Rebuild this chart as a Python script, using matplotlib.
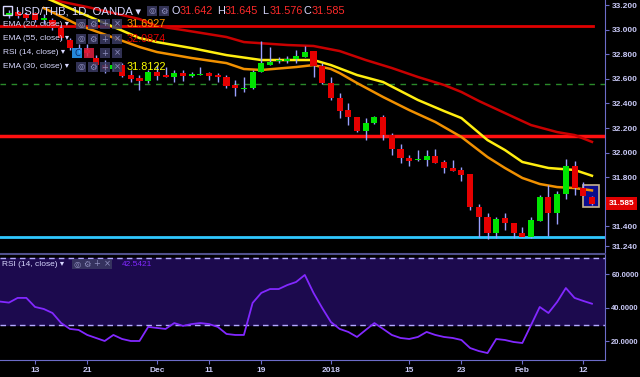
import numpy as np
import matplotlib.pyplot as plt
from matplotlib.patches import Rectangle

opens = [33.111, 33.143, 33.127, 33.135, 33.078, 33.078, 33.013, 32.916, 32.850, 32.834,
         32.769, 32.712, 32.680, 32.712, 32.631, 32.606, 32.582, 32.655, 32.631, 32.615,
         32.647, 32.623, 32.631, 32.647, 32.631, 32.615, 32.550, 32.517, 32.525, 32.655,
         32.712, 32.745, 32.745, 32.761, 32.777, 32.826, 32.704, 32.566, 32.444, 32.346,
         32.289, 32.176, 32.241, 32.289, 32.143, 32.029, 31.956, 31.940, 31.940, 31.972,
         31.924, 31.875, 31.859, 31.826, 31.558, 31.476, 31.346, 31.468, 31.428, 31.346,
         31.314, 31.444, 31.639, 31.509, 31.663, 31.891, 31.712, 31.642]
highs = [33.159, 33.159, 33.143, 33.143, 33.127, 33.094, 33.029, 32.932, 32.883, 32.883,
         32.794, 32.753, 32.729, 32.729, 32.672, 32.631, 32.672, 32.712, 32.696, 32.672,
         32.672, 32.655, 32.696, 32.655, 32.647, 32.631, 32.590, 32.615, 32.672, 32.907,
         32.859, 32.777, 32.785, 32.834, 32.867, 32.826, 32.729, 32.615, 32.485, 32.403,
         32.289, 32.281, 32.298, 32.306, 32.159, 32.070, 31.981, 32.021, 32.021, 32.029,
         31.940, 31.940, 31.883, 31.826, 31.582, 31.509, 31.476, 31.509, 31.428, 31.395,
         31.476, 31.655, 31.737, 31.688, 31.948, 31.932, 31.761, 31.645]
lows = [33.094, 33.094, 33.078, 33.062, 33.046, 32.997, 32.916, 32.834, 32.810, 32.785,
        32.688, 32.647, 32.663, 32.615, 32.574, 32.509, 32.566, 32.590, 32.615, 32.574,
        32.582, 32.615, 32.631, 32.590, 32.574, 32.525, 32.460, 32.493, 32.517, 32.655,
        32.712, 32.729, 32.729, 32.729, 32.777, 32.615, 32.558, 32.428, 32.281, 32.224,
        32.168, 32.102, 32.233, 32.102, 31.981, 31.916, 31.891, 31.932, 31.891, 31.916,
        31.834, 31.850, 31.769, 31.533, 31.314, 31.298, 31.306, 31.371, 31.306, 31.314,
        31.306, 31.444, 31.322, 31.420, 31.623, 31.655, 31.647, 31.576]
closes = [33.135, 33.111, 33.094, 33.078, 33.094, 33.013, 32.932, 32.850, 32.834, 32.810,
          32.712, 32.680, 32.712, 32.623, 32.598, 32.582, 32.655, 32.623, 32.615, 32.647,
          32.623, 32.639, 32.639, 32.623, 32.615, 32.541, 32.525, 32.525, 32.655, 32.729,
          32.737, 32.753, 32.761, 32.785, 32.818, 32.704, 32.566, 32.444, 32.338, 32.289,
          32.176, 32.241, 32.289, 32.143, 32.029, 31.956, 31.932, 31.948, 31.972, 31.916,
          31.875, 31.850, 31.818, 31.558, 31.476, 31.346, 31.460, 31.428, 31.346, 31.314,
          31.452, 31.639, 31.509, 31.663, 31.891, 31.712, 31.647, 31.585]

# RSI (14) a partire dalla candela -1
rsi_vals = [43.8, 43.2, 46.0, 46.0, 40.6, 39.4, 37.0, 31.0, 27.5, 26.9,
            23.9, 22.1, 20.3, 23.9, 21.5, 20.3, 20.3, 28.7, 28.1, 27.5,
            31.0, 29.3, 30.4, 31.0, 30.4, 28.7, 24.5, 23.9, 23.9, 43.0,
            49.0, 51.3, 51.3, 53.7, 55.5, 59.7, 49.0, 40.0, 31.6, 27.5,
            25.7, 22.7, 26.9, 31.0, 27.5, 23.9, 22.1, 21.5, 22.7, 25.7,
            23.9, 22.7, 22.1, 20.9, 16.1, 14.3, 13.1, 21.5, 20.9, 19.7,
            19.1, 29.8, 40.6, 37.0, 43.6, 51.9, 46.0, 44.2, 42.5421]

# medie mobili lette in alcuni punti
ema20_idx = [4, 8, 15, 17, 21, 25, 27, 29, 33, 35, 37, 38, 40, 43, 46, 49, 52, 55, 57, 59, 61, 63, 65, 67]
ema20_vals = [33.176, 33.037, 32.859, 32.818, 32.769, 32.728, 32.680, 32.672, 32.696, 32.712, 32.680, 32.647,
              32.566, 32.452, 32.346, 32.249, 32.127, 31.964, 31.875, 31.794, 31.745, 31.720, 31.712, 31.6927]
ema30_idx = [4, 8, 15, 17, 21, 25, 29, 33, 35, 37, 40, 43, 47, 50, 52, 55, 57, 59, 62, 65, 67]
ema30_vals = [33.265, 33.143, 32.932, 32.899, 32.850, 32.793, 32.753, 32.753, 32.753, 32.712, 32.631,
              32.574, 32.428, 32.338, 32.281, 32.102, 32.021, 31.924, 31.875, 31.859, 31.8122]
ema55_idx = [4, 9, 15, 17, 20, 25, 27, 32, 35, 38, 41, 44, 47, 50, 52, 54, 58, 60, 63, 65, 67]
ema55_vals = [33.257, 33.184, 33.086, 33.029, 32.997, 32.940, 32.899, 32.875, 32.867, 32.826, 32.753,
              32.688, 32.615, 32.550, 32.493, 32.420, 32.289, 32.224, 32.167, 32.143, 32.0874]

# livelli orizzontali
res_top = 33.03
res_mid = 32.137
dash_level = 32.558
support = 31.314

tick_pos = [3, 9, 17, 23, 29, 37, 46, 52, 59, 66]
tick_labels = ['13', '21', 'Dec', '11', '19', '2018', '15', '23', 'Feb', '12']
price_ticks = [33.2, 33.0, 32.8, 32.6, 32.4, 32.2, 32.0, 31.8, 31.4, 31.24]
rsi_ticks = [60, 40, 20]

plt.rcParams['font.family'] = ['Liberation Sans', 'DejaVu Sans']

W, H = 640, 377
fig = plt.figure(figsize=(W / 100, H / 100), dpi=100, facecolor='black')

def fx(x):
    return x / W

def fy(y):
    return 1 - y / H

ax = fig.add_axes([0, fy(252), fx(605), 252 / H])
ax2 = fig.add_axes([0, fy(360), fx(605), (360 - 254) / H], sharex=ax)

axis_col = '#6c6cc8'
label_col = '#c8c8f5'
for a in (ax, ax2):
    a.set_facecolor('black')
    for s in ['left', 'top', 'bottom']:
        a.spines[s].set_visible(False)
    a.spines['right'].set_color(axis_col)
    a.yaxis.tick_right()
    a.tick_params(axis='y', colors=axis_col, labelcolor=label_col, length=3, labelsize=6, pad=2)

ax2.tick_params(axis='y', labelsize=5.5, pad=1.5)
ax2.spines['bottom'].set_visible(True)
ax2.spines['bottom'].set_color(axis_col)
ax2.spines['top'].set_visible(True)
ax2.spines['top'].set_color('#50508c')
ax2.spines['top'].set_linewidth(1.5)

# candele
green, red, wick = '#00e400', '#e60000', '#9aa0ff'
x = np.arange(len(opens))
o, h, l, c = map(np.array, (opens, highs, lows, closes))
cols = np.where(c >= o, green, red)

# riquadro sull'ultima candela
ax.add_patch(Rectangle((x[-1] - 1.05, 31.555), 1.9, 0.185, fc='#0c0c8c', ec='#c8b48c', lw=1.2, zorder=2))

ax.vlines(x, l, h, color=wick, lw=1, zorder=3)
body = np.maximum(np.abs(c - o), 0.007)
ax.bar(x, body, bottom=np.minimum(o, c), width=0.7, color=cols, zorder=4)

# livelli
ax.axhline(res_top, xmax=593 / 605, color='#e00000', lw=2, zorder=1)
ax.axhline(res_mid, color='#ff1010', lw=2.5, zorder=1)
ax.axhline(support, color='#30c8ff', lw=2, zorder=1)
ax.axhline(dash_level, color='#2a8a2a', lw=1, ls=(0, (4, 4)), zorder=1)

# medie mobili
ax.plot(ema55_idx, ema55_vals, color='#c80000', lw=1.8, zorder=2)
ax.plot(ema30_idx, ema30_vals, color='#ffee10', lw=1.8, zorder=2)
ax.plot(ema20_idx, ema20_vals, color='#f09000', lw=1.8, zorder=2)

ax.set_xlim(-1.03, 68.5)
ax.set_ylim(31.192, 33.241)
ax.set_yticks(price_ticks)
ax.set_yticklabels([f'{v:.3f}' for v in price_ticks], fontweight='bold')
ax.tick_params(axis='x', bottom=False, labelbottom=False)

# etichetta prezzo
ax.text(1.006, closes[-1], f'{closes[-1]:.3f}', transform=ax.get_yaxis_transform(), ha='left', va='center',
        color='white', fontsize=6, fontweight='bold', clip_on=False,
        bbox=dict(boxstyle='square,pad=0.35', fc='#e00000', ec='none'))

# RSI
ax2.axhspan(30, 70, color='#1c0a4e', zorder=0)
ax2.axhline(70, color='#b4aaff', lw=1, ls=(0, (4, 3)))
ax2.axhline(30, color='#b4aaff', lw=1, ls=(0, (4, 3)))
ax2.plot(np.arange(-1, len(opens)), rsi_vals, color='#8228ff', lw=1.3)
ax2.set_ylim(8.96, 72.2)
ax2.set_yticks(rsi_ticks)
ax2.set_yticklabels([f'{v:.4f}' for v in rsi_ticks], fontweight='bold')
ax2.set_xticks(tick_pos)
ax2.set_xticklabels(tick_labels, fontweight='bold')
ax2.tick_params(axis='x', colors=axis_col, labelcolor=label_col, length=3, labelsize=6, pad=2)

# legenda in alto a sinistra
txt_col = '#d8d8ff'

def icon(xp, yp, glyph='', fc='#3a3a62', gc='#9090c0'):
    fig.add_artist(Rectangle((fx(xp), fy(yp + 5)), 10 / W, 10 / H, transform=fig.transFigure,
                             fc=fc, ec='none', alpha=0.85, zorder=5))
    if glyph:
        fig.text(fx(xp + 5), fy(yp), glyph, color=gc, fontsize=6, ha='center', va='center',
                 family=['DejaVu Sans'], zorder=6)

fig.add_artist(Rectangle((fx(3), fy(15)), 9 / W, 9 / H, transform=fig.transFigure,
                         fc='none', ec=txt_col, lw=1, zorder=5))
fig.text(fx(16), fy(11), 'USD/THB, 1D, OANDA \u25BE', color=txt_col, fontsize=8.2, va='center', zorder=6)
icon(147, 11, '\u25CE')
icon(159, 11, '\u2699')
ohlc = [('O', 172, opens[-1]), ('H', 217, highs[-1]), ('L', 262, lows[-1]), ('C', 304, closes[-1])]
for lab, xp, v in ohlc:
    fig.text(fx(xp), fy(11), lab, color=txt_col, fontsize=7.8, va='center', zorder=6)
    fig.text(fx(xp + 8), fy(11), f'{v:.3f}', color='#ff2a2a', fontsize=7.8, va='center', zorder=6)

rows = [('EMA (20, close) \u25BE', 24, f'{ema20_vals[-1]:.4f}', '#ff9900'),
        ('EMA (55, close) \u25BE', 39, f'{ema55_vals[-1]:.4f}', '#e00000'),
        ('RSI (14, close) \u25BE', 53, '', ''),
        ('EMA (30, close) \u25BE', 67, f'{ema30_vals[-1]:.4f}', '#ffff00')]
for name, yp, val, vc in rows:
    fig.text(fx(3), fy(yp), name, color=txt_col, fontsize=6, va='center', zorder=6)
    if name.startswith('RSI'):
        icon(72, yp, 'C', fc='#2aa0ff', gc='#0a2a6a')
        icon(84, yp, '', fc='#e02040')
    else:
        icon(76, yp, '\u25CE')
        icon(88, yp, '\u2699')
    icon(100, yp, '+')
    icon(112, yp, '\u00D7')
    if val:
        fig.text(fx(127), fy(yp), val, color=vc, fontsize=7.8, va='center', zorder=6)

# legenda RSI
fig.text(fx(2), fy(264), 'RSI (14, close) \u25BE', color=txt_col, fontsize=6, va='center', zorder=6)
for k, g in enumerate(['\u25CE', '\u2699', '+', '\u00D7']):
    icon(72 + 10 * k, 264, g, fc='#3a3a62')
fig.text(fx(122), fy(264), f'{rsi_vals[-1]:.4f}', color='#8228ff', fontsize=6, va='center', zorder=6)

fig.savefig('out.png', dpi=100, facecolor='black')
